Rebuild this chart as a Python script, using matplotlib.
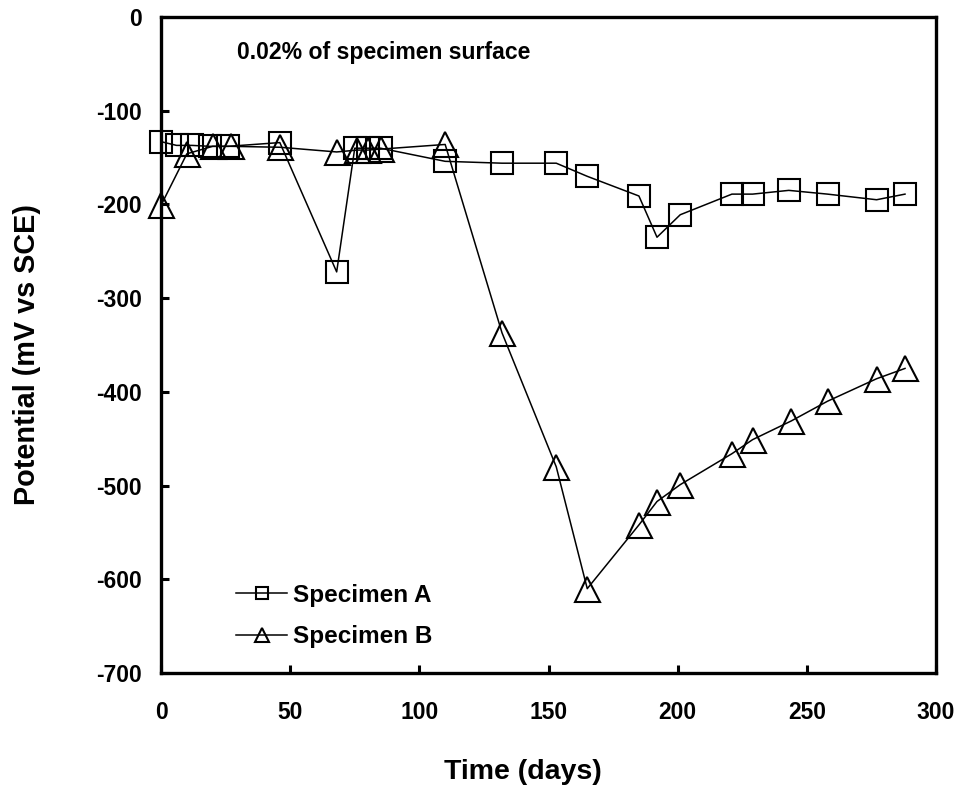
import matplotlib
matplotlib.use("Agg")
import matplotlib.pyplot as plt

plt.rcParams['font.family'] = ['Liberation Sans', 'DejaVu Sans']
plt.rcParams['font.weight'] = 'bold'

# Specimen A (squares)
days_a = [0, 6, 12, 19, 26, 46, 68, 75, 80, 85, 110, 132, 153, 165, 185, 192, 201, 221, 229, 243, 258, 277, 288]
pot_a = [-133, -137, -137, -138, -138, -134, -272, -140, -140, -140, -154, -156, -156, -170, -191, -235, -211,
         -189, -189, -185, -189, -195, -189]

# Specimen B (triangles)
days_b = [0, 10, 20, 27, 46, 68, 76, 80, 85, 110, 132, 153, 165, 185, 192, 201, 221, 229, 244, 258, 277, 288]
pot_b = [-201, -146, -138, -138, -139, -144, -142, -142, -141, -136, -337, -480, -610, -542, -517, -499,
         -466, -451, -431, -410, -386, -375]

x_ticks = [0, 50, 100, 150, 200, 250, 300]
y_ticks = [0, -100, -200, -300, -400, -500, -600, -700]

W, H = 964, 790
fig = plt.figure(figsize=(W / 100, H / 100), dpi=100)
ax = fig.add_axes([161 / W, 1 - 673 / H, (936 - 161) / W, (673 - 17) / H])

ax.plot(days_a, pot_a, color='black', lw=1.1, marker='s', ms=16.5, mfc='none', mec='black', mew=1.5,
        label='Specimen A', clip_on=False)
ax.plot(days_b, pot_b, color='black', lw=1.1, marker='^', ms=18, mfc='none', mec='black', mew=1.5,
        label='Specimen B', clip_on=False)

ax.set_xlim(0, 300)
ax.set_ylim(-700, 0)
ax.set_xticks(x_ticks)
ax.set_yticks(y_ticks)
ax.set_xticklabels([str(v) for v in x_ticks])
ax.set_yticklabels([str(v) for v in y_ticks])
ax.tick_params(axis='both', direction='in', length=6, width=2.2, labelsize=16.5)
ax.tick_params(axis='x', pad=20)
ax.tick_params(axis='y', pad=14)
for lab in ax.get_xticklabels() + ax.get_yticklabels():
    lab.set_fontweight('bold')
for s in ax.spines.values():
    s.set_linewidth(2.4)
    s.set_zorder(5)

fig.text(523 / W, 1 - 772 / H, 'Time (days)', ha='center', va='center', fontsize=20.5, fontweight='bold')
fig.text(27 / W, 1 - 355 / H, 'Potential (mV vs SCE)', ha='center', va='center', rotation=90,
         fontsize=20.8, fontweight='bold')
fig.text(237 / W, 1 - 53 / H, '0.02% of specimen surface', ha='left', va='center', fontsize=16.6,
         fontweight='bold')

leg = ax.legend(loc='center left', bbox_to_anchor=(236 / W, 1 - 616 / H), bbox_transform=fig.transFigure,
                frameon=False, markerscale=0.55, handlelength=2.1, handletextpad=0.25,
                labelspacing=0.75, borderpad=0, borderaxespad=0, prop={'weight': 'bold', 'size': 17.5})

fig.savefig('out.png', dpi=100)
